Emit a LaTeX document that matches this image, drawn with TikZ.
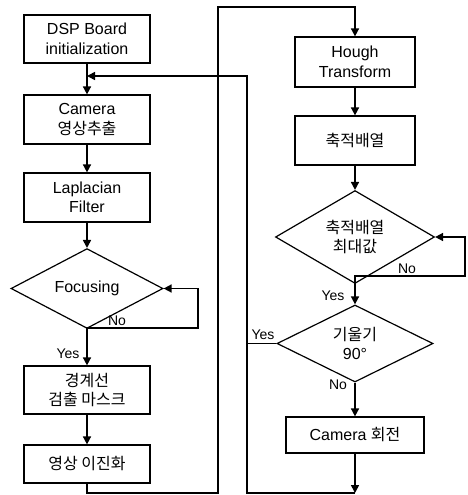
\documentclass[tikz,border=0pt]{standalone}
\usepackage{fontspec}
\setmainfont{Liberation Sans}
\newfontfamily\kr{Noto Sans CJK KR}
\usetikzlibrary{shapes.geometric,arrows.meta}
\tikzset{
    box/.style={draw, line width=1.2pt, minimum width=126pt, minimum height=48pt,
        inner sep=0pt, align=center, font=\fontsize{16}{19.5}\selectfont},
    decision/.style={draw, diamond, line width=1.2pt, inner sep=0pt, align=center,
        font=\fontsize{16}{19.5}\selectfont},
    arr/.style={line width=1.6pt, -{Triangle[length=8pt,width=8pt]}},
    conn/.style={line width=1.6pt},
    lbl/.style={inner sep=1pt, font=\fontsize{14}{16}\selectfont}
}
\begin{document}
\begin{tikzpicture}[x=1pt, y=-1pt]
    \useasboundingbox (0,0) rectangle (467,495);

    % left column:
    \node[box] (dsp) at (87,39) {DSP Board\\initialization};
    \node[box, minimum height=49pt] (cam) at (87,119.5) {Camera\\{\kr 영상추출}};
    \node[box, minimum height=49pt] (lap) at (87,197.5) {Laplacian\\Filter};
    \node[decision, minimum width=152pt, minimum height=57pt] (focus) at (87,288.5) {Focusing};
    \node[box] (mask) at (87,390) {{\kr 경계선}\\{\kr 검출 마스크}};
    \node[box, minimum height=38pt] (bin) at (87,464) {{\kr 영상 이진화}};

    % right column:
    \node[box, minimum width=120pt, minimum height=50pt] (hough) at (355,62) {Hough\\Transform};
    \node[box, minimum width=120pt, minimum height=49pt] (acc) at (355,140.5) {{\kr 축적배열}};
    \node[decision, minimum width=159pt, minimum height=67pt] (max) at (355,237) {{\kr 축적배열}\\{\kr 최대값}};
    \node[decision, minimum width=156pt, minimum height=67pt] (tilt) at (355,343.5) {{\kr 기울기}\\90°};
    \node[box, minimum width=138pt, minimum height=36pt] (rot) at (355,435) {Camera {\kr 회전}};

    % corner points:
    \coordinate (join) at (87,76);
    \coordinate (backtop) at (247,76);
    \coordinate (rotend) at (355,493);
    \coordinate (up1) at (218,493);
    \coordinate (up2) at (218,7);
    \coordinate (fno) at (198,328);
    \coordinate (mno) at (465,276);

    % arrows:
    \draw[arr] (dsp) -- (cam);
    \draw[arr] (cam) -- (lap);
    \draw[arr] (lap) -- (focus);
    \draw[arr] (focus) -- (mask);
    \draw[arr] (mask) -- (bin);
    \draw[arr] (hough) -- (acc);
    \draw[arr] (acc) -- (max);
    \draw[arr] (max) -- (tilt);
    \draw[arr] (tilt) -- (rot);
    \draw[arr] (rot) -- (rotend);

    % loops:
    \draw[arr] (focus.south) |- (fno) |- (focus.east);
    \draw[arr] (max.south) |- (mno) |- (max.east);
    \draw[arr] (bin.south) |- (up1) -- (up2) -| (hough.north);
    \draw[arr] (rotend) -| (backtop) -- (join);
    \draw[conn] (tilt.west) -- (tilt.west -| backtop);

    % labels:
    \node[lbl] (fnolbl) at (117,321) {No};
    \node[lbl] (fyeslbl) at (68,354) {Yes};
    \node[lbl] (mnolbl) at (407,269) {No};
    \node[lbl] (myeslbl) at (333,296) {Yes};
    \node[lbl] (tyeslbl) at (263,335) {Yes};
    \node[lbl] (tnolbl) at (338,385) {No};
\end{tikzpicture}
\end{document}
